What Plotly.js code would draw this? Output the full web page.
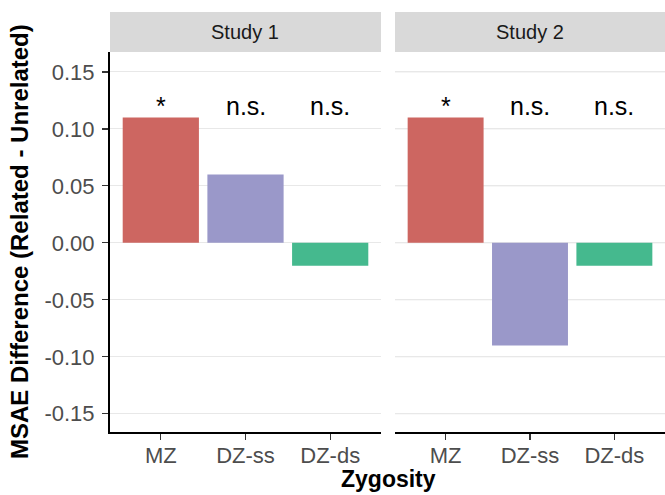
<!DOCTYPE html>
<html>
<head>
<meta charset="utf-8">
<script src="https://cdn.plot.ly/plotly-3.0.1.min.js"></script>
<style>html,body{margin:0;padding:0;background:#fff;}#chart{width:665px;height:495px;}</style>
</head>
<body>
<div id="chart"></div>
<script>
const categories = ["MZ", "DZ-ss", "DZ-ds"];
const study1Values = [0.11, 0.06, -0.02];
const study2Values = [0.11, -0.09, -0.02];
const study1Labels = ["*", "n.s.", "n.s."];
const study2Labels = ["*", "n.s.", "n.s."];
const studyNames = ["Study 1", "Study 2"];
const barColors = ["#CD6661", "#9A98C9", "#45B98E"];
const yTickVals = [-0.15, -0.10, -0.05, 0.00, 0.05, 0.10, 0.15];
const yTickText = ["-0.15", "-0.10", "-0.05", "0.00", "0.05", "0.10", "0.15"];
const labelY = 0.12;

const FONT = "Liberation Sans, Arial, sans-serif";
const W = 665, H = 495;
const x1 = [110 / W, 381 / W];
const x2 = [395 / W, 1];
const yDom = [1 - 432 / H, 1 - 52 / H];
const strip = [1 - 52 / H, 1 - 12 / H];

const traces = [
  {type: "bar", x: categories, y: study1Values, xaxis: "x", yaxis: "y",
   marker: {color: barColors}, width: 0.9, showlegend: false, hoverinfo: "x+y"},
  {type: "bar", x: categories, y: study2Values, xaxis: "x2", yaxis: "y",
   marker: {color: barColors}, width: 0.9, showlegend: false, hoverinfo: "x+y"}
];

const tickFont = {family: FONT, size: 22, color: "#4D4D4D"};
const xaxisBase = {
  type: "category", range: [-0.6, 2.6], showgrid: false, zeroline: false,
  showline: true, linecolor: "#000", linewidth: 2,
  ticks: "outside", ticklen: 6, tickcolor: "#333", tickwidth: 1.2,
  ticklabelstandoff: -3,
  tickfont: tickFont, fixedrange: true
};

const annotations = [];
categories.forEach((c, i) => {
  annotations.push({xref: "x", yref: "y", x: c, y: labelY, text: study1Labels[i], showarrow: false,
    font: {family: FONT, size: 25, color: "#000"}, xanchor: "center", yanchor: "middle"});
  annotations.push({xref: "x2", yref: "y", x: c, y: labelY, text: study2Labels[i], showarrow: false,
    font: {family: FONT, size: 25, color: "#000"}, xanchor: "center", yanchor: "middle"});
});
annotations.push({xref: "paper", yref: "paper", x: (x1[0] + x1[1]) / 2, y: (strip[0] + strip[1]) / 2,
  xanchor: "center", yanchor: "middle",
  text: studyNames[0], showarrow: false, font: {family: FONT, size: 20, color: "#1A1A1A"}});
annotations.push({xref: "paper", yref: "paper", x: (x2[0] + x2[1]) / 2, y: (strip[0] + strip[1]) / 2,
  xanchor: "center", yanchor: "middle",
  text: studyNames[1], showarrow: false, font: {family: FONT, size: 20, color: "#1A1A1A"}});
annotations.push({xref: "paper", yref: "paper", x: 388 / W, y: 1 - 479 / H, xanchor: "center", yanchor: "middle",
  text: "<b>Zygosity</b>", showarrow: false, font: {family: FONT, size: 23, color: "#000"}});
annotations.push({xref: "paper", yref: "paper", x: 19 / W, y: (yDom[0] + yDom[1]) / 2, xanchor: "center", yanchor: "middle",
  textangle: -90,
  text: "<b>MSAE Difference (Related - Unrelated)</b>", showarrow: false,
  font: {family: FONT, size: 24, color: "#000"}});

const layout = {
  width: W, height: H,
  margin: {l: 0, r: 0, t: 0, b: 0},
  paper_bgcolor: "#fff", plot_bgcolor: "#fff",
  bargap: 0.1,
  xaxis: Object.assign({}, xaxisBase, {domain: x1, anchor: "y"}),
  xaxis2: Object.assign({}, xaxisBase, {domain: x2, anchor: "y"}),
  yaxis: {
    domain: yDom, range: [-0.166, 0.1675], anchor: "x",
    tickvals: yTickVals, ticktext: yTickText,
    showgrid: true, gridcolor: "#E8E8E8", gridwidth: 1, zeroline: false,
    showline: true, linecolor: "#000", linewidth: 2,
    ticks: "outside", ticklen: 6, tickcolor: "#333", tickwidth: 1.2,
    ticklabelstandoff: 3,
    tickfont: tickFont, fixedrange: true
  },
  shapes: [
    {type: "rect", xref: "paper", yref: "paper", x0: x1[0], x1: x1[1], y0: strip[0], y1: strip[1],
     fillcolor: "#D9D9D9", line: {width: 0}, layer: "below"},
    {type: "rect", xref: "paper", yref: "paper", x0: x2[0], x1: x2[1], y0: strip[0], y1: strip[1],
     fillcolor: "#D9D9D9", line: {width: 0}, layer: "below"}
  ].concat(yTickVals.map(v => ({type: "line", xref: "x2 domain", yref: "y", x0: 0, x1: 1, y0: v, y1: v,
     line: {color: "#E8E8E8", width: 1}, layer: "below"}))),
  annotations: annotations
};

Plotly.newPlot("chart", traces, layout, {displayModeBar: false, staticPlot: true});
</script>
</body>
</html>
